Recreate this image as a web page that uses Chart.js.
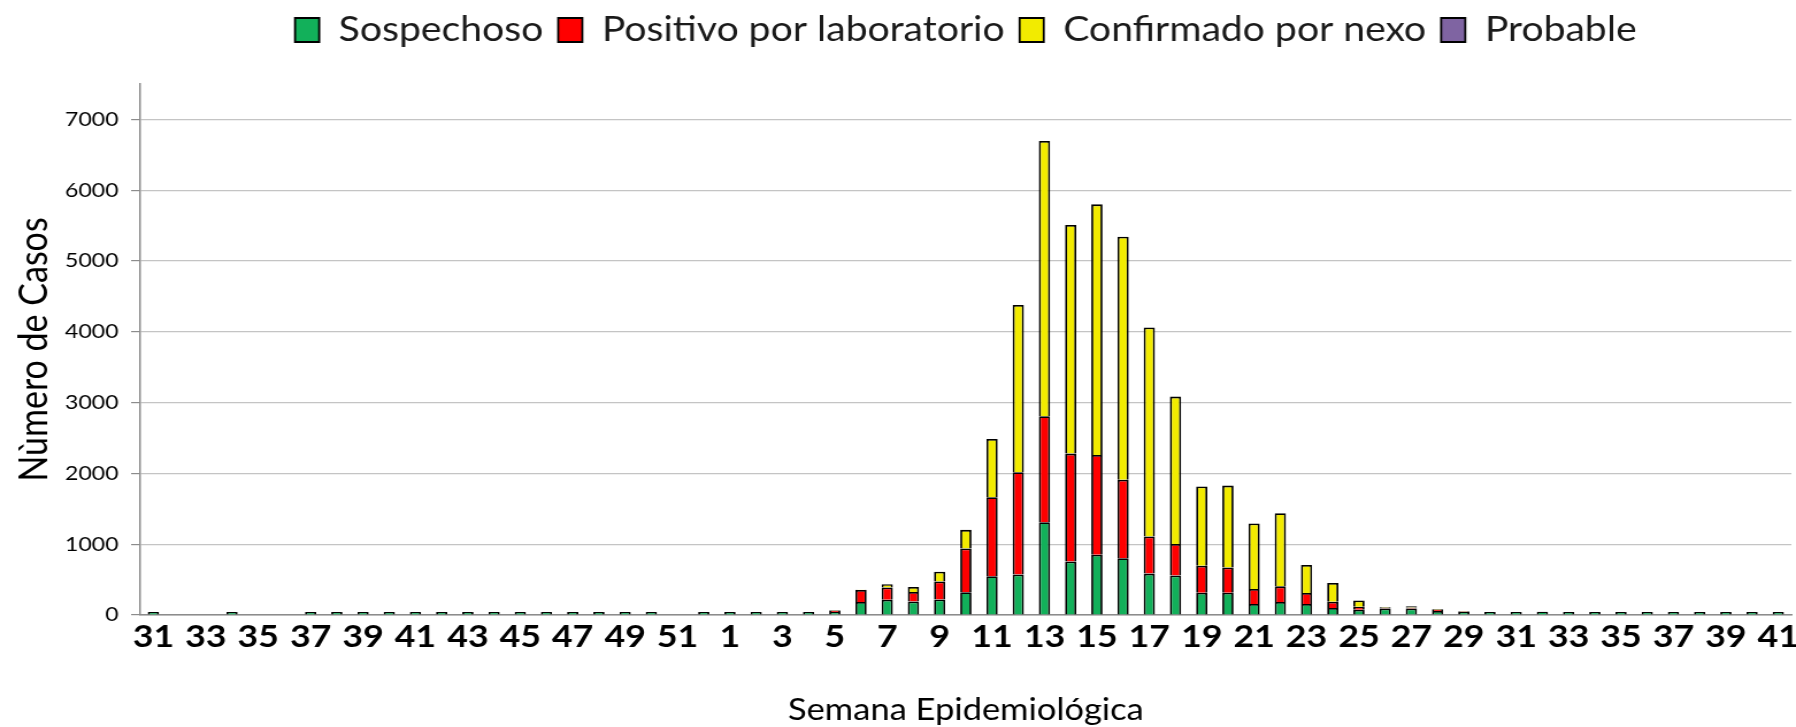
<!DOCTYPE html>
<html>
<head>
<meta charset="utf-8">
<script src="https://cdn.jsdelivr.net/npm/chart.js@4.4.1/dist/chart.umd.min.js"></script>
<style>
  html, body { margin: 0; padding: 0; background: #fff; overflow: hidden; }
  /* the reference picture is stretched horizontally, so the chart is drawn narrower and widened */
  #wrap { width: 1562px; height: 727px; transform: scaleX(1.1498); transform-origin: 0 0; }
</style>
</head>
<body>
<div id="wrap"><canvas id="chart"></canvas></div>
<script>
// Semanas epidemiológicas: 31-52 (2019) y 1-41 (2020)
const weeks = [
  '31', '32', '33', '34', '35', '36', '37', '38', '39', '40', '41',
  '42', '43', '44', '45', '46', '47', '48', '49', '50', '51', '52',
  '1', '2', '3', '4', '5', '6', '7', '8', '9', '10',
  '11', '12', '13', '14', '15', '16', '17', '18', '19', '20',
  '21', '22', '23', '24', '25', '26', '27', '28', '29', '30',
  '31', '32', '33', '34', '35', '36', '37', '38', '39', '40', '41'
];

const sospechoso = [
  3, null, null, 3, null, null, 2, 2, 3, 2, 2,
  3, 2, 2, 3, 2, 2, 2, 3, 2, null, 3,
  3, 2, 3, 4, 25, 185, 216, 190, 218, 322,
  547, 571, 1309, 755, 851, 803, 585, 557, 314, 314,
  155, 184, 157, 100, 75, 92, 92, 58, 18, 28,
  30, 45, 20, 30, 22, 8, 25, 15, 18, 18, 18
];

const positivoLab = [
  null, null, null, null, null, null, null, null, null, null, null,
  null, null, null, null, null, null, null, null, null, null, null,
  null, null, null, null, 20, 168, 174, 135, 256, 617,
  1116, 1445, 1498, 1525, 1410, 1107, 525, 445, 383, 356,
  212, 221, 154, 88, 40, 8, 15, 15, 8, null,
  null, null, null, null, null, null, null, null, null, null, null
];

const confirmadoNexo = [
  null, null, null, null, null, null, null, null, null, null, null,
  null, null, null, null, null, null, null, null, null, null, null,
  null, null, null, null, 8, 5, 45, 70, 138, 264,
  824, 2363, 3887, 3228, 3539, 3434, 2952, 2083, 1117, 1158,
  926, 1032, 396, 264, 90, 8, 15, 12, 5, null,
  null, null, null, null, null, null, null, null, null, null, null
];

const probable = [
  0, 0, 0, 0, 0, 0, 0, 0, 0, 0, 0,
  0, 0, 0, 0, 0, 0, 0, 0, 0, 0, 0,
  0, 0, 0, 0, 0, 0, 0, 0, 0, 0,
  0, 0, 0, 0, 0, 0, 0, 0, 0, 0,
  0, 0, 0, 0, 0, 0, 0, 0, 0, 0,
  0, 0, 0, 0, 0, 0, 0, 0, 0, 0, 0
];

const yTicks = [0, 1000, 2000, 3000, 4000, 5000, 6000, 7000];

const FONT = 'Lato, "Open Sans", sans-serif';

function series(label, data, color, extra) {
  return Object.assign({
    label: label,
    data: data,
    backgroundColor: color,
    borderColor: '#000',
    borderWidth: 1.8,
    barPercentage: 0.43,
    categoryPercentage: 1
  }, extra || {});
}

// extra room between the legend and the plot
const legendSpacing = {
  id: 'legendSpacing',
  beforeInit(chart) {
    const fit = chart.legend.fit;
    chart.legend.fit = function () {
      fit.call(this);
      this.height = 84;
    };
  }
};

new Chart(document.getElementById('chart'), {
  type: 'bar',
  data: {
    labels: weeks,
    datasets: [
      series('Sospechoso', sospechoso, '#12B05A', { minBarLength: 3 }),
      series('Positivo por laboratorio', positivoLab, '#FF0000'),
      series('Confirmado por nexo', confirmadoNexo, '#F2EB00'),
      series('Probable', probable, '#7F64A2')
    ]
  },
  options: {
    responsive: true,
    maintainAspectRatio: false,
    animation: false,
    layout: { padding: { top: 0, right: 4, bottom: 0, left: 0 } },
    plugins: {
      legend: {
        position: 'top',
        fullSize: false,
        labels: {
          font: { family: FONT, size: 34 },
          color: '#1a1a1a',
          boxWidth: 21,
          boxHeight: 24,
          padding: 13
        }
      },
      tooltip: { enabled: false }
    },
    scales: {
      x: {
        stacked: true,
        grid: { display: false },
        border: { display: true, color: '#8c8c8c', width: 1.5 },
        ticks: {
          autoSkip: false,
          maxRotation: 0,
          minRotation: 0,
          padding: -5,
          color: '#000',
          font: { family: FONT, size: 31, weight: 'bold' },
          callback: (value, index) => (index % 2 === 0 ? weeks[index] : '')
        },
        title: {
          display: true,
          text: 'Semana Epidemiológica',
          color: '#000',
          font: { family: FONT, size: 30, lineHeight: 1.1 },
          padding: { top: 0, bottom: 0 }
        },
        afterFit: (scale) => { scale.height = 112; }
      },
      y: {
        stacked: true,
        min: 0,
        max: 7500,
        afterBuildTicks: (axis) => {
          axis.ticks = yTicks.map(v => ({ value: v }));
        },
        grid: { color: '#c4c4c4', tickColor: '#8c8c8c', tickLength: 8, lineWidth: 1.2 },
        border: { display: true, color: '#8c8c8c', width: 1.5 },
        ticks: {
          padding: 11,
          color: '#000',
          font: { family: FONT, size: 20 },
          callback: (value) => String(value)
        },
        title: {
          display: true,
          text: 'Nùmero de Casos',
          color: '#000',
          font: { family: FONT, size: 34 },
          padding: { top: 10, bottom: 0 }
        },
        afterFit: (scale) => { scale.width = 122; }
      }
    }
  },
  plugins: [legendSpacing]
});
</script>
</body>
</html>
